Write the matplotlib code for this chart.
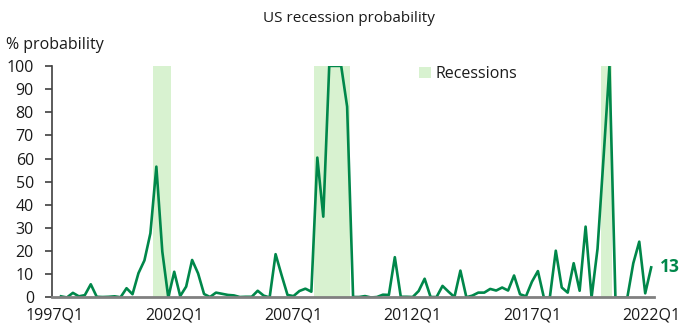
import numpy as np
import matplotlib.pyplot as plt

plt.rcParams["font.family"] = ["Open Sans", "DejaVu Sans"]

# quarterly categories 1997Q1 .. 2022Q1
quarters = [f"{y}Q{q}" for y in range(1997, 2023) for q in range(1, 5)][:101]

# model recession probability, % (no reading for 1997Q1)
probability = [
    np.nan, 0.5, 0, 2, 0.5, 1, 5.7, 0.3, 0.2, 0.3,
    0.5, 0.1, 4, 1.4, 10.5, 16, 27.7, 56.5, 19.8, 0,
    11.1, 0.6, 4.7, 16.2, 10.4, 1.5, 0.2, 2.1, 1.6, 1.1,
    0.9, 0.2, 0.3, 0.3, 2.9, 0.8, 0, 18.7, 9.7, 1.1,
    0.6, 2.8, 3.8, 2.5, 60.4, 34.9, 100, 100, 100, 82.4,
    0.2, 0.2, 0.6, 0, 0.2, 1.2, 1.1, 17.4, 0.3, 0.3,
    0.2, 2.8, 8.1, 0.2, 0.2, 5, 2.5, 0.2, 11.6, 0.1,
    0.8, 2.1, 2.1, 3.7, 3, 4.3, 3, 9.5, 1.4, 0.5,
    6.8, 11.4, 0, 0, 20.2, 4.3, 2.1, 14.8, 2.9, 30.6,
    0, 21, 60, 100, 0, 0, 0, 14.8, 24.1, 1.8,
    13,
]

# NBER recession quarters
recession_quarters = ["2001Q2", "2001Q3", "2001Q4",
                      "2008Q1", "2008Q2", "2008Q3", "2008Q4", "2009Q1", "2009Q2",
                      "2020Q1", "2020Q2"]

tick_labels = ["1997Q1", "2002Q1", "2007Q1", "2012Q1", "2017Q1", "2022Q1"]

GREEN = "#00874A"
SHADE = "#D8F2D0"
TEXT = "#1a1a1a"

x = np.arange(len(quarters))
rec_x = [quarters.index(q) for q in recession_quarters]

fig = plt.figure(figsize=(6.8, 3.23), dpi=100)
ax = fig.add_axes([0.0765, 0.079, 0.8855, 0.717])

ax.bar(rec_x, [100] * len(rec_x), width=1.0, color=SHADE, linewidth=0,
       label="Recessions", zorder=1)
ax.plot(x, probability, color=GREEN, linewidth=1.9, zorder=3)

last = probability[-1]
ax.annotate(f"{last:.0f}", xy=(x[-1], last), xytext=(6, 0),
            textcoords="offset points", va="center", ha="left",
            fontsize=12.5, fontweight="bold", color=GREEN, annotation_clip=False)

ax.set_xlim(-0.5, len(quarters) - 0.5)
ax.set_ylim(0, 100)
ax.set_yticks(range(0, 101, 10))
ax.set_xticks([quarters.index(t) for t in tick_labels])
ax.set_xticklabels(tick_labels)

for side in ("top", "right"):
    ax.spines[side].set_visible(False)
ax.spines["left"].set_color("#404040")
ax.spines["left"].set_linewidth(1.2)
ax.spines["bottom"].set_color("#808080")
ax.spines["bottom"].set_linewidth(2)
ax.spines["bottom"].set_zorder(4)

ax.tick_params(axis="y", direction="out", length=5, width=1.2, color="#404040",
               pad=8, labelsize=11.5, labelcolor=TEXT)
ax.tick_params(axis="x", length=0, pad=7, labelsize=11.5, labelcolor=TEXT)

ax.legend(loc="upper left", bbox_to_anchor=(0.61, 1.0), frameon=False,
          fontsize=11.5, handlelength=0.72, handleheight=0.7, handletextpad=0.3,
          borderpad=0, borderaxespad=0, labelcolor=TEXT)

fig.text(349 / 680, 1 - 18 / 323, "US recession probability", ha="center",
         va="center", fontsize=11, color=TEXT)
fig.text(6 / 680, 1 - 45 / 323, "% probability", ha="left", va="center",
         fontsize=11.5, color=TEXT)

fig.savefig("out.png", dpi=100)
